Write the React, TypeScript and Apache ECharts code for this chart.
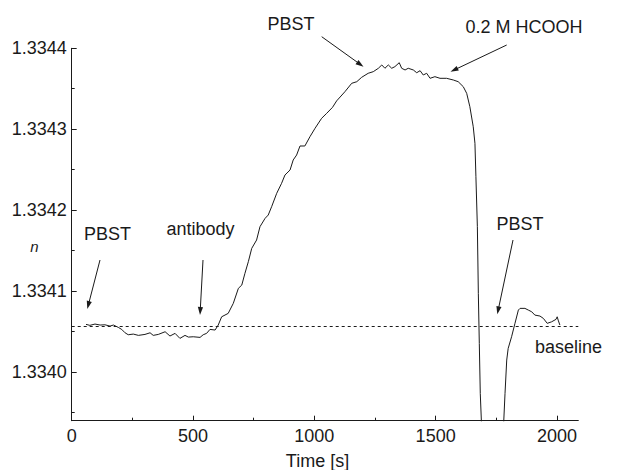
import React, { useEffect, useRef } from "react";
import * as echarts from "echarts";

// time [s]
const timeS: number[] = [
  59, 75, 96, 117, 137, 158, 172, 192, 206, 220, 233, 254, 275, 302, 323, 336, 357, 385, 405, 426,
  446, 467, 481, 501, 529, 542, 556, 570, 591, 604, 618, 645, 666, 687, 701, 714, 728, 742, 762, 776,
  797, 810, 824, 845, 865, 879, 900, 913, 927, 941, 961, 982, 1003, 1030, 1051, 1075, 1092, 1126, 1154, 1175,
  1195, 1222, 1243, 1264, 1278, 1291, 1305, 1319, 1332, 1350, 1360, 1374, 1387, 1408, 1422, 1436, 1449, 1463, 1477, 1497,
  1518, 1545, 1573, 1593, 1614, 1628, 1641, 1655, 1662, 1666, 1672, 1676, 1680, 1684, 1690, 1700, 1770, 1779, 1786, 1793,
  1799, 1813, 1827, 1841, 1848, 1868, 1882, 1896, 1909, 1930, 1944, 1960, 1978, 1996, 2001, 2005, 2012,
];

// refractive index n
const nValues: number[] = [
  1.3340586, 1.3340574, 1.334059, 1.3340578, 1.3340581, 1.3340565, 1.3340578, 1.3340549, 1.3340524, 1.3340482,
  1.3340458, 1.3340466, 1.334045, 1.3340462, 1.3340482, 1.334045, 1.3340462, 1.3340495, 1.3340442, 1.3340475,
  1.3340413, 1.334045, 1.3340429, 1.3340433, 1.3340425, 1.3340458, 1.3340475, 1.3340524, 1.3340516, 1.3340578,
  1.334068, 1.3340722, 1.3340846, 1.3341032, 1.3341072, 1.3341217, 1.3341361, 1.3341526, 1.3341629, 1.3341794,
  1.3341897, 1.3341938, 1.3342041, 1.3342207, 1.334233, 1.3342433, 1.3342495, 1.3342619, 1.334268, 1.3342792,
  1.3342792, 1.3342907, 1.3343011, 1.3343134, 1.3343196, 1.334327, 1.334335, 1.3343463, 1.3343567, 1.3343587,
  1.3343641, 1.3343691, 1.3343711, 1.3343753, 1.3343794, 1.3343753, 1.3343794, 1.3343753, 1.3343773, 1.3343822,
  1.3343753, 1.3343732, 1.3343753, 1.3343732, 1.3343698, 1.3343723, 1.334367, 1.3343691, 1.3343629, 1.3343649,
  1.3343629, 1.3343629, 1.3343608, 1.3343587, 1.3343525, 1.3343443, 1.3343278, 1.334303, 1.3342825, 1.3342412,
  1.3341794, 1.334097, 1.3340351, 1.3339733, 1.3339279, 1.33388, 1.33388, 1.3339279, 1.3339733, 1.3340145,
  1.3340289, 1.3340433, 1.3340599, 1.3340763, 1.3340784, 1.3340784, 1.3340763, 1.3340742, 1.3340701, 1.3340689,
  1.334066, 1.3340599, 1.3340618, 1.3340648, 1.334068, 1.3340639, 1.3340578,
];

const baselineN = 1.3340565;

const xMajorTicks: number[] = [0, 500, 1000, 1500, 2000];
const xMinorTicks: number[] = [250, 750, 1250, 1750];
const yMajorTicks: number[] = [1.334, 1.3341, 1.3342, 1.3343, 1.3344];
const yMinorTicks: number[] = [1.33395, 1.33405, 1.33415, 1.33425, 1.33435];

const X_MIN = 0;
const X_MAX = 2088;
const Y_MIN = 1.3339395;
const Y_MAX = 1.3344;

const FONT = "'Liberation Sans', Arial, sans-serif";
const INK = "#1a1a1a";

type Ann = { text: string; x: number; y: number };
const annotations: Ann[] = [
  { text: "PBST", x: 291, y: 23.7 },
  { text: "0.2 M HCOOH", x: 524, y: 27 },
  { text: "PBST", x: 107.5, y: 233.7 },
  { text: "antibody", x: 200.5, y: 229.4 },
  { text: "PBST", x: 520, y: 223.7 },
  { text: "baseline", x: 568.5, y: 346.7 },
];

const arrows: number[][] = [
  [321.7, 36.7, 363.5, 66.7],
  [506.7, 45, 450.5, 71.7],
  [100, 260, 87.3, 309],
  [203, 260, 200, 315],
  [513, 240, 497.3, 314.3],
];

function arrowGraphics(): any[] {
  const out: any[] = [];
  arrows.forEach(([x1, y1, x2, y2]) => {
    const dx = x2 - x1;
    const dy = y2 - y1;
    const len = Math.sqrt(dx * dx + dy * dy);
    const ux = dx / len;
    const uy = dy / len;
    const hl = 8;
    const hw = 2.6;
    const bx = x2 - ux * hl;
    const by = y2 - uy * hl;
    out.push({
      type: "line",
      shape: { x1, y1, x2: bx + ux * 2, y2: by + uy * 2 },
      style: { stroke: INK, lineWidth: 1 },
      silent: true,
    });
    out.push({
      type: "polygon",
      shape: {
        points: [
          [x2, y2],
          [bx - uy * hw, by + ux * hw],
          [bx + uy * hw, by - ux * hw],
        ],
      },
      style: { fill: INK },
      silent: true,
    });
  });
  return out;
}

export default function App() {
  const ref = useRef<HTMLDivElement>(null);

  useEffect(() => {
    if (!ref.current) return;
    const chart = echarts.init(ref.current, undefined, { renderer: "svg" });
    const data = timeS.map((t, i) => [t, nValues[i]]);

    const textGraphics = annotations.map((a) => ({
      type: "text",
      x: a.x,
      y: a.y,
      style: {
        text: a.text,
        font: `18px ${FONT}`,
        fill: INK,
        align: "center",
        verticalAlign: "middle",
      },
      silent: true,
    }));

    chart.setOption({
      animation: false,
      backgroundColor: "#ffffff",
      grid: { left: 71.7, right: 39.7, top: 48.3, bottom: 49.3, containLabel: false },
      xAxis: [
        {
          type: "value",
          min: X_MIN,
          max: X_MAX,
          position: "bottom",
          axisLine: { show: true, lineStyle: { color: INK, width: 1 } },
          axisTick: { show: true, inside: true, length: 5, customValues: xMajorTicks, lineStyle: { color: INK } },
          axisLabel: {
            show: true,
            customValues: xMajorTicks,
            margin: 6,
            fontSize: 18,
            fontFamily: FONT,
            color: INK,
            formatter: (v: number) => String(Math.round(v)),
          },
          splitLine: { show: false },
        },
        {
          type: "value",
          min: X_MIN,
          max: X_MAX,
          position: "bottom",
          axisLine: { show: false },
          axisTick: { show: true, inside: true, length: 3, customValues: xMinorTicks, lineStyle: { color: INK } },
          axisLabel: { show: false },
          splitLine: { show: false },
        },
      ],
      yAxis: [
        {
          type: "value",
          min: Y_MIN,
          max: Y_MAX,
          position: "left",
          axisLine: { show: true, lineStyle: { color: INK, width: 1 } },
          axisTick: { show: true, inside: true, length: 5, customValues: yMajorTicks, lineStyle: { color: INK } },
          axisLabel: {
            show: true,
            customValues: yMajorTicks,
            margin: 5,
            fontSize: 18,
            fontFamily: FONT,
            color: INK,
            formatter: (v: number) => v.toFixed(4),
          },
          splitLine: { show: false },
        },
        {
          type: "value",
          min: Y_MIN,
          max: Y_MAX,
          position: "left",
          axisLine: { show: false },
          axisTick: { show: true, inside: true, length: 3, customValues: yMinorTicks, lineStyle: { color: INK } },
          axisLabel: { show: false },
          splitLine: { show: false },
        },
      ],
      series: [
        {
          type: "line",
          xAxisIndex: 0,
          yAxisIndex: 0,
          data,
          showSymbol: false,
          symbol: "none",
          clip: true,
          lineStyle: { color: INK, width: 1 },
          markLine: {
            silent: true,
            precision: 8,
            symbol: ["none", "none"],
            label: { show: false },
            lineStyle: { color: INK, width: 1, type: [3, 3] },
            data: [{ yAxis: baselineN }],
          },
        },
      ],
      graphic: [
        ...textGraphics,
        {
          type: "text",
          x: 317.5,
          y: 461,
          style: {
            text: "Time [s]",
            font: `18px ${FONT}`,
            fill: INK,
            align: "center",
            verticalAlign: "middle",
          },
          silent: true,
        },
        {
          type: "text",
          x: 34.5,
          y: 246,
          style: {
            text: "n",
            font: `italic 15px ${FONT}`,
            fill: INK,
            align: "center",
            verticalAlign: "middle",
          },
          silent: true,
        },
        ...arrowGraphics(),
      ],
    });

    return () => {
      chart.dispose();
    };
  }, []);

  return (
    <div
      ref={ref}
      style={{ position: "fixed", left: 0, top: 0, width: 618, height: 470 }}
    />
  );
}
